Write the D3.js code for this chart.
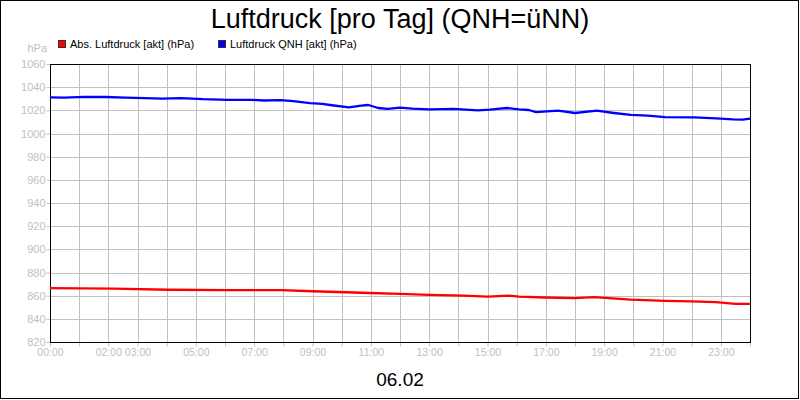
<!DOCTYPE html>
<html>
<head>
	<script src="https://d3js.org/d3.v7.min.js"></script>
	<title>Luftdruck</title>
	<style>
		body { margin: 0; background: #fff; }
		text { font-family: Arial, "Liberation Sans", sans-serif; }
	</style>
</head>
<body>
	<svg id="SVG" width="800" height="400"></svg>
	<script>
		// data (time of day, hPa)
		var qnhTimes = ["00:00","00:30","01:10","01:55","02:35","03:15","03:50","04:30","05:15","06:05","06:55","07:20","07:55",
			"08:20","08:55","09:20","09:40","10:15","10:40","10:55","11:15","11:35","12:00","12:25","13:00","13:50","14:40",
			"15:05","15:40","16:05","16:25","16:40","17:25","18:00","18:45","19:20","19:55","20:30","21:05","22:05","22:50",
			"23:25","23:45","24:00"];
		var qnhValues = [1031.2,1031.0,1031.7,1031.5,1031.0,1030.5,1030.1,1030.5,1029.6,1029.1,1029.1,1028.5,1028.8,
			1027.9,1026.2,1025.6,1024.4,1022.6,1024.1,1024.6,1022.0,1021.2,1022.3,1021.4,1020.9,1021.2,1020.0,
			1020.6,1022.0,1020.9,1020.3,1018.5,1019.7,1017.7,1019.7,1017.7,1016.0,1015.4,1014.2,1013.9,1013.1,
			1012.2,1011.9,1012.8];

		var absTimes = ["00:00","02:10","04:05","06:05","07:55","09:00","10:58","12:00","13:00","14:10","15:00",
			"15:45","16:05","16:58","18:00","18:40","19:55","21:05","22:00","22:50","23:30","24:00"];
		var absValues = [866.5,866.0,865.1,864.8,864.8,863.8,862.3,861.5,860.6,860.0,859.2,
			860.0,859.2,858.4,857.8,858.7,856.6,855.5,855.0,854.4,853.0,853.0];

		var yTicks = [820,840,860,880,900,920,940,960,980,1000,1020,1040,1060];
		var xLabels = ["00:00","02:00","03:00","05:00","07:00","09:00","11:00","13:00","15:00","17:00","19:00","21:00","23:00"];
		var seriesNames = ["Abs. Luftdruck [akt] (hPa)", "Luftdruck QNH [akt] (hPa)"];
		var seriesColors = ["#ff0000", "#0000ff"];

		var svg = d3.select("#SVG");
		var plotL = 50, plotR = 750, plotT = 64, plotB = 342;

		function toMin(t) {
			var p = t.split(":");
			return (+p[0]) * 60 + (+p[1]);
		}

		var x = d3.scaleLinear().domain([0, 1440]).range([plotL, plotR]);
		var y = d3.scaleLinear().domain([820, 1060]).range([plotB, plotT]);

		// outer frame
		svg.append("rect").attr("x", 0.5).attr("y", 0.5).attr("width", 798).attr("height", 398)
			.attr("fill", "#fff").attr("stroke", "#000");

		// grid
		var hours = d3.range(1, 24);
		svg.append("g").selectAll("line").data(hours).enter().append("line")
			.attr("x1", h => Math.round(x(h * 60)) + 0.5).attr("x2", h => Math.round(x(h * 60)) + 0.5)
			.attr("y1", plotT).attr("y2", plotB)
			.attr("stroke", "#c0c0c0");
		svg.append("g").selectAll("line").data(yTicks.slice(1, -1)).enter().append("line")
			.attr("x1", plotL).attr("x2", plotR)
			.attr("y1", d => Math.round(y(d)) + 0.5).attr("y2", d => Math.round(y(d)) + 0.5)
			.attr("stroke", "#c0c0c0");

		// axes
		var yAxis = d3.axisLeft(y).tickValues(yTicks).tickSize(4).tickSizeOuter(0).tickFormat(d3.format("d"));
		var gy = svg.append("g").attr("transform", "translate(" + (plotL + 0.5) + ",0)").call(yAxis);
		gy.select(".domain").remove();
		gy.selectAll(".tick line").attr("stroke", "#c0c0c0");
		gy.selectAll(".tick text").attr("fill", "#c0c0c0").attr("font-size", 11).attr("x", -5)
			.style("font-family", "Arial, 'Liberation Sans', sans-serif");

		var xAxis = d3.axisBottom(x).tickValues(d3.range(0, 25).map(h => h * 60)).tickSize(4).tickSizeOuter(0)
			.tickFormat(function(m) {
				var s = d3.format("02d")(m / 60) + ":00";
				return xLabels.indexOf(s) >= 0 ? s : "";
			});
		var gx = svg.append("g").attr("transform", "translate(0," + (plotB + 0.5) + ")").call(xAxis);
		gx.select(".domain").remove();
		gx.selectAll(".tick line").attr("stroke", "#c0c0c0");
		gx.selectAll(".tick text").attr("fill", "#c0c0c0").attr("font-size", 10.5).attr("y", 6)
			.style("font-family", "Arial, 'Liberation Sans', sans-serif");

		// plot frame
		svg.append("rect").attr("x", plotL + 0.5).attr("y", plotT + 0.5)
			.attr("width", plotR - plotL).attr("height", plotB - plotT)
			.attr("fill", "none").attr("stroke", "#000");

		// lines
		var line = d3.line().x(d => x(d[0])).y(d => y(d[1]));
		var absData = absTimes.map((t, i) => [toMin(t), absValues[i]]);
		var qnhData = qnhTimes.map((t, i) => [toMin(t), qnhValues[i]]);
		[absData, qnhData].forEach(function(data, i) {
			svg.append("path").datum(data)
				.attr("d", line)
				.attr("fill", "none")
				.attr("stroke", seriesColors[i])
				.attr("stroke-width", 2.3)
				.attr("stroke-linejoin", "round");
		});

		// title, legend, labels
		svg.append("text").attr("x", 400).attr("y", 28).attr("text-anchor", "middle")
			.attr("font-size", 27).text("Luftdruck [pro Tag] (QNH=üNN)");
		svg.append("text").attr("x", 400).attr("y", 386).attr("text-anchor", "middle")
			.attr("font-size", 19).text("06.02");
		svg.append("text").attr("x", 47).attr("y", 52).attr("text-anchor", "end")
			.attr("font-size", 11).attr("fill", "#c0c0c0").text("hPa");

		var legendX = [58, 218];
		seriesNames.forEach(function(name, i) {
			svg.append("rect").attr("x", legendX[i] + 0.5).attr("y", 40.5).attr("width", 7).attr("height", 7)
				.attr("fill", seriesColors[i]).attr("stroke", "#333");
			svg.append("text").attr("x", legendX[i] + 12).attr("y", 48)
				.attr("font-size", 11).text(name);
		});
	</script>
</body>
</html>
